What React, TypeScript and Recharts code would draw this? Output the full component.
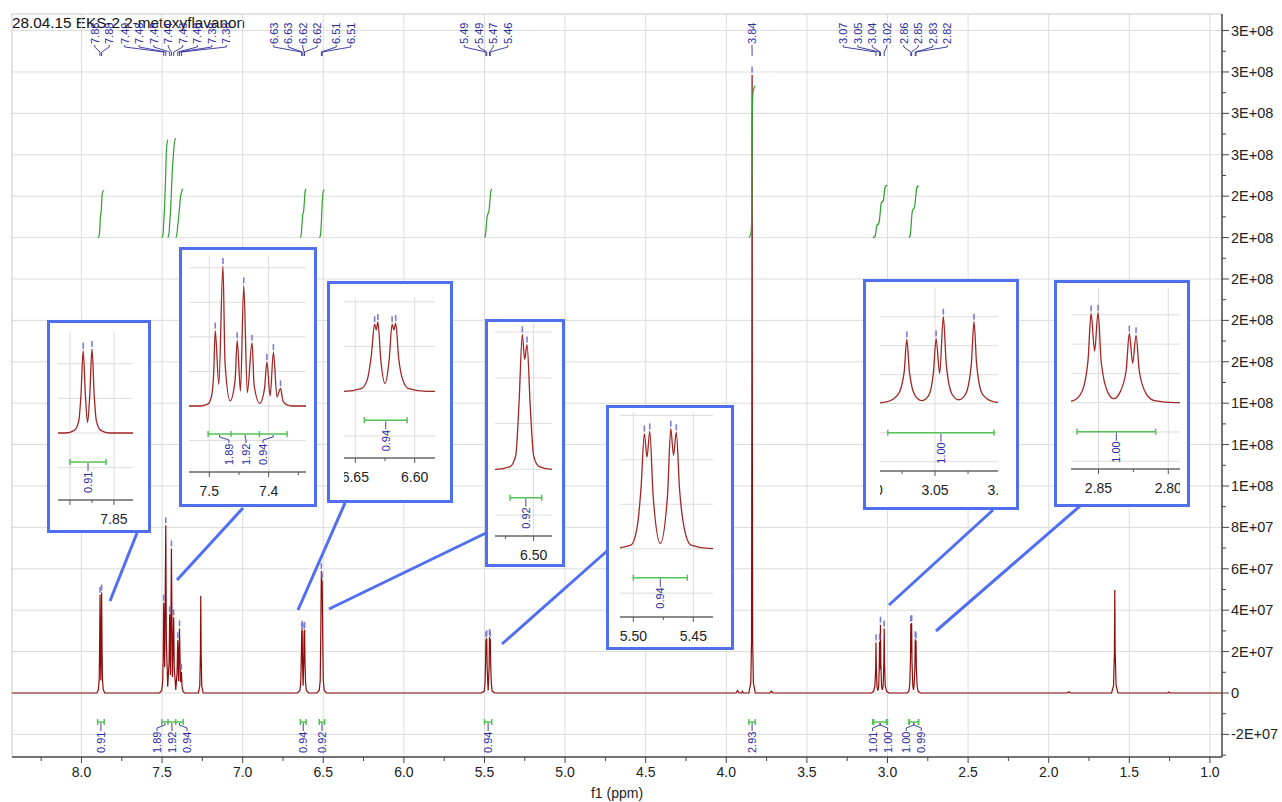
import React from 'react';
import { ComposedChart, Line, Scatter, XAxis, YAxis, ReferenceLine } from 'recharts';

const FONT = '"Liberation Sans", Arial, sans-serif';
const RED = '#8e0c0c';
const INSET_RED = '#a22626';
const GREEN = '#2f9f2f';
const BAR_GREEN = '#55c255';
const NAVY = '#2c2c9e';
const MARK = '#7c7cd8';
const BLUE = '#4f6ff0';
const GRID = '#dcdcdc';

// resolved lines of each labelled multiplet (ppm / intensity)
const peakPpm = [
  [7.885, 7.875],
  [7.49, 7.477, 7.453, 7.442, 7.428, 7.403, 7.392, 7.38],
  [6.6337, 6.631, 6.619, 6.616],
  [6.512, 6.507],
  [5.4908, 5.4863, 5.4688, 5.4642],
  [3.84],
  [3.0714, 3.0492, 3.0437, 3.0205],
  [2.8553, 2.8503, 2.8279, 2.8231],
];
const peakHeight = [
  [4.75e7, 4.85e7],
  [4.36e7, 8.1e7, 3.8e7, 6.98e7, 3.66e7, 2.55e7, 3.12e7, 1.02e7],
  [3.0e7, 3.1e7, 3.0e7, 3.05e7],
  [5.9e7, 5.45e7],
  [2.59e7, 2.64e7, 2.7e7, 2.62e7],
  [2.986e8],
  [2.44e7, 2.47e7, 3.3e7, 3.11e7],
  [3.35e7, 3.38e7, 2.6e7, 2.53e7],
];
// flanks and valleys around each multiplet, [ppm, intensity]
const peakFlanks: [number, number][][] = [
  [[7.905, 0], [7.895, 0.15e7], [7.89, 0.7e7], [7.8875, 2.2e7], [7.8825, 2.2e7], [7.88, 0.6e7], [7.8775, 2.2e7], [7.8725, 2.2e7], [7.87, 0.7e7], [7.865, 0.15e7], [7.855, 0]],
  [[7.515, 0], [7.502, 0.12e7], [7.496, 0.6e7], [7.4925, 2.0e7], [7.484, 1.25e7], [7.4735, 2.5e7], [7.465, 0.3e7], [7.4565, 1.5e7], [7.4475, 0.87e7], [7.436, 0.77e7], [7.4245, 1.2e7], [7.415, 0.15e7], [7.407, 1.0e7], [7.3975, 0.58e7], [7.386, 0.52e7], [7.376, 0.3e7], [7.37, 0.08e7], [7.36, 0]],
  [[6.66, 0], [6.645, 0.12e7], [6.64, 0.5e7], [6.6365, 1.6e7], [6.6323, 2.75e7], [6.6285, 1.4e7], [6.625, 0.35e7], [6.6215, 1.4e7], [6.6175, 2.75e7], [6.6135, 1.5e7], [6.61, 0.5e7], [6.605, 0.12e7], [6.59, 0]],
  [[6.54, 0], [6.525, 0.12e7], [6.519, 0.6e7], [6.5155, 2.9e7], [6.5095, 4.8e7], [6.5035, 2.7e7], [6.5, 0.6e7], [6.494, 0.12e7], [6.48, 0]],
  [[5.52, 0], [5.502, 0.08e7], [5.497, 0.45e7], [5.4935, 1.4e7], [5.4886, 2.06e7], [5.4835, 1.2e7], [5.4775, 0.12e7], [5.4715, 1.2e7], [5.4665, 2.1e7], [5.4615, 1.35e7], [5.4575, 0.45e7], [5.452, 0.08e7], [5.435, 0]],
  [[3.86, 0], [3.848, 0.5e7], [3.8435, 2.5e7], [3.8415, 1.3e8], [3.8385, 1.3e8], [3.8365, 2.5e7], [3.832, 0.5e7], [3.82, 0]],
  [[3.1, 0], [3.086, 0.08e7], [3.078, 0.35e7], [3.0734, 1.2e7], [3.0694, 1.2e7], [3.065, 0.3e7], [3.06, 0.12e7], [3.055, 0.3e7], [3.0512, 1.2e7], [3.0465, 1.15e7], [3.0415, 1.5e7], [3.037, 0.35e7], [3.032, 0.15e7], [3.027, 0.35e7], [3.0225, 1.5e7], [3.0185, 1.5e7], [3.014, 0.35e7], [3.006, 0.08e7], [2.99, 0]],
  [[2.88, 0], [2.868, 0.08e7], [2.862, 0.4e7], [2.8575, 1.6e7], [2.8528, 1.94e7], [2.848, 1.5e7], [2.843, 0.35e7], [2.839, 0.15e7], [2.835, 0.35e7], [2.8302, 1.2e7], [2.8255, 1.48e7], [2.8208, 1.2e7], [2.816, 0.35e7], [2.81, 0.08e7], [2.795, 0]],
];
// CHCl3 and water lines, not picked
const solventPpm = [7.26, 1.59];
const solventHeight = [4.7e7, 4.98e7];
const solventFlanks: [number, number][][] = [
  [[7.275, 0], [7.266, 0.35e7], [7.2622, 2.0e7], [7.2578, 2.0e7], [7.254, 0.35e7], [7.245, 0]],
  [[1.61, 0], [1.598, 0.35e7], [1.5922, 2.0e7], [1.5878, 2.0e7], [1.582, 0.35e7], [1.57, 0]],
];
const baselineBumps: [number, number][] = [
  [3.94, 0], [3.93, 0.12e7], [3.92, 0], [3.905, 0], [3.9, 0.08e7], [3.895, 0],
  [3.73, 0], [3.72, 0.09e7], [3.71, 0], [1.885, 0], [1.875, 0.06e7], [1.865, 0],
  [1.262, 0], [1.255, 0.05e7], [1.248, 0],
];

// integration regions
const integralValue = [0.91, 1.89, 1.92, 0.94, 0.94, 0.92, 0.94, 2.93, 1.01, 1.0, 1.0, 0.99];
const integralFrom = [7.9, 7.502, 7.4634, 7.4157, 6.6424, 6.5251, 5.5, 3.86, 3.092, 3.0858, 2.8654, 2.868];
const integralTo = [7.859, 7.4634, 7.4157, 7.369, 6.6064, 6.4914, 5.455, 3.82, 3.0, 3.0053, 2.809, 2.806];
const integralGroups = [[0], [1, 2, 3], [4], [5], [6], [7], [8, 9], [10, 11]];

// axis ticks
const ppmMajor = [8.0, 7.5, 7.0, 6.5, 6.0, 5.5, 5.0, 4.5, 4.0, 3.5, 3.0, 2.5, 2.0, 1.5, 1.0];
const ppmMinor = [8.25, 7.75, 7.25, 6.75, 6.25, 5.75, 5.25, 4.75, 4.25, 3.75, 3.25, 2.75, 2.25, 1.75, 1.25];
const intensityTicks = [-2e7, 0, 2e7, 4e7, 6e7, 8e7, 1e8, 1.2e8, 1.4e8, 1.6e8, 1.8e8, 2e8, 2.2e8, 2.4e8, 2.6e8, 2.8e8, 3e8, 3.2e8];

type Pt = { x: number; y: number | null; text?: string };
type Frame = { x0: number; x1: number; p0: number; p1: number; y0: number; y1: number; v0: number; v1: number };

const ppmAt = (f: Frame, px: number) => f.p0 + ((px - f.x0) / (f.x1 - f.x0)) * (f.p1 - f.p0);
const pxOf = (f: Frame, ppm: number) => f.x0 + ((ppm - f.p0) / (f.p1 - f.p0)) * (f.x1 - f.x0);
const valAt = (f: Frame, py: number) => f.v0 + ((py - f.y0) / (f.y1 - f.y0)) * (f.v1 - f.v0);

// plot box of the main spectrum in page pixels
const MAIN: Frame = { x0: 12, x1: 1222, p0: 8.431, p1: 0.925, y0: 14, y1: 757, v0: 3.28e8, v1: -3.092e7 };
const TOP_SLOTS = [102, 175.5, 295.5, 343.5, 486, 752, 865, 925.5];
const INT_BASE = 2.2e8;
const INT_UNIT = 2.5e7;

const spectrum: Pt[] = (() => {
  const pts: [number, number][] = [];
  peakPpm.forEach((g, i) => g.forEach((p, j) => pts.push([p, peakHeight[i][j]])));
  peakFlanks.forEach((f) => pts.push(...f));
  solventPpm.forEach((p, i) => pts.push([p, solventHeight[i]]));
  solventFlanks.forEach((f) => pts.push(...f));
  pts.push(...baselineBumps, [8.6, 0], [0.8, 0]);
  pts.sort((a, b) => b[0] - a[0]);
  return pts.map(([x, y]) => ({ x, y }));
})();

const pickedPeaks: Pt[] = peakPpm.flatMap((g, i) => g.map((x, j) => ({ x, y: peakHeight[i][j] })));

// running integral of the trace inside each region
function integralCurve(k: number): Pt[] {
  const from = integralFrom[k];
  const to = integralTo[k];
  const inside = spectrum.filter((p) => p.x < from && p.x > to);
  const xs = [from, ...inside.map((p) => p.x), to];
  const ys = [0, ...inside.map((p) => p.y as number), 0];
  const cum = [0];
  for (let i = 1; i < xs.length; i++) cum.push(cum[i - 1] + ((xs[i - 1] - xs[i]) * (ys[i - 1] + ys[i])) / 2);
  const total = cum[cum.length - 1] || 1;
  return xs.map((x, i) => ({ x, y: INT_BASE + (cum[i] / total) * integralValue[k] * INT_UNIT }));
}
const integralCurves: Pt[] = integralValue.flatMap((_, k) => [...integralCurve(k), { x: integralTo[k], y: null }]);

function peakLabels(f: Frame, slots: number[], gap: number, bottom: number) {
  const labels: Pt[] = [];
  const links: Pt[] = [];
  peakPpm.forEach((g, gi) =>
    g.forEach((p, j) => {
      const sx = ppmAt(f, slots[gi] + (j - (g.length - 1) / 2) * gap);
      labels.push({ x: sx, y: valAt(f, bottom), text: p.toFixed(2) });
      links.push(
        { x: sx, y: valAt(f, bottom + 1) },
        { x: sx, y: valAt(f, bottom + 3) },
        { x: p, y: valAt(f, bottom + 8) },
        { x: p, y: valAt(f, bottom + 12) },
        { x: p, y: null },
      );
    }),
  );
  return { labels, links };
}

function integralMarks(f: Frame, groups: number[][], barY: number, gap: number) {
  const bars: Pt[] = [];
  const links: Pt[] = [];
  const labels: Pt[] = [];
  const yb = valAt(f, barY);
  const yu = valAt(f, barY - 3);
  const yd = valAt(f, barY + 3);
  groups.forEach((g) => {
    const centers = g.map((k) => (integralFrom[k] + integralTo[k]) / 2);
    const mid = centers.reduce((s, c) => s + pxOf(f, c), 0) / g.length;
    g.forEach((k, j) => {
      const a = integralFrom[k];
      const b = integralTo[k];
      bars.push(
        { x: a, y: yu }, { x: a, y: yd }, { x: a, y: null },
        { x: a, y: yb }, { x: b, y: yb }, { x: b, y: null },
        { x: b, y: yu }, { x: b, y: yd }, { x: b, y: null },
      );
      const sx = ppmAt(f, mid + (j - (g.length - 1) / 2) * gap);
      links.push(
        { x: centers[j], y: valAt(f, barY + 1) },
        { x: centers[j], y: valAt(f, barY + 3) },
        { x: sx, y: valAt(f, barY + 6) },
        { x: sx, y: valAt(f, barY + 9) },
        { x: sx, y: null },
      );
      labels.push({ x: sx, y: valAt(f, barY + 31), text: integralValue[k].toFixed(2) });
    });
  });
  return { bars, links, labels };
}

const fmtE = (v: number) => {
  if (v === 0) return '0';
  const [m, e] = v.toExponential(0).split('e');
  return `${m}E${e[0]}${e.slice(1).padStart(2, '0')}`;
};

const vLabel = (size: number) => (p: any) => (
  <text
    x={p.cx}
    y={p.cy}
    transform={`rotate(-90 ${p.cx} ${p.cy})`}
    fill={NAVY}
    fontSize={size}
    fontFamily={FONT}
    dominantBaseline="central"
  >
    {p.payload.text}
  </text>
);
const peakMark = (p: any) => (
  <line x1={p.cx} x2={p.cx} y1={p.cy - 2} y2={p.cy - 8} stroke={MARK} strokeWidth={1.6} />
);

function MainXTick(p: any) {
  const v = p.payload.value as number;
  const major = ppmMajor.includes(v);
  return (
    <g>
      <line x1={p.x} x2={p.x} y1={p.y} y2={p.y + (major ? 6 : 4)} stroke="#444" />
      {major && (
        <text x={p.x} y={p.y + 20} textAnchor="middle" fontSize={14} fontFamily={FONT} fill="#222">
          {v.toFixed(1)}
        </text>
      )}
    </g>
  );
}

function MainYTick(p: any) {
  const v = p.payload.value as number;
  const major = intensityTicks.includes(v);
  return (
    <g>
      <line x1={p.x} x2={p.x + (major ? 7 : 4)} y1={p.y} y2={p.y} stroke="#444" />
      {major && (
        <text x={p.x + 9} y={p.y} dominantBaseline="central" fontSize={14.5} fontFamily={FONT} fill="#222">
          {fmtE(v)}
        </text>
      )}
    </g>
  );
}

type InsetCfg = {
  box: [number, number, number, number];
  plot: [number, number, number, number];
  ppm: [number, number];
  base: number;
  perPx: number;
  ticks: number[];
  vgrid: number[];
  labeled: number[];
  dec: number;
  grid: number;
  group: number;
  integrals: number[];
  barY: number;
  gap: number;
};

const INSETS: InsetCfg[] = [
  { box: [47, 320, 104, 213], plot: [58, 133, 331, 500], ppm: [7.9136, 7.8284], base: 433, perPx: 5.774e5, ticks: [7.9, 7.875, 7.85], vgrid: [7.9, 7.85], labeled: [7.85], dec: 2, grid: 2e7, group: 0, integrals: [0], barY: 462, gap: 15 },
  { box: [179, 247, 138, 260], plot: [189, 306, 256, 472], ppm: [7.5342, 7.3371], base: 406, perPx: 5.786e5, ticks: [7.5, 7.45, 7.4, 7.35], vgrid: [7.5, 7.4], labeled: [7.5, 7.4], dec: 1, grid: 2e7, group: 1, integrals: [1, 2, 3], barY: 434, gap: 17 },
  { box: [327, 281, 126, 222], plot: [344, 435, 298, 458], ppm: [6.6595, 6.5829], base: 391.3, perPx: 4.473e5, ticks: [6.65, 6.625, 6.6], vgrid: [6.65, 6.6], labeled: [6.65, 6.6], dec: 2, grid: 2e7, group: 2, integrals: [4], barY: 420.3, gap: 15 },
  { box: [485, 319, 80, 248], plot: [495, 552, 323, 536], ppm: [6.5411, 6.4804], base: 469.3, perPx: 4.37e5, ticks: [6.53, 6.5], vgrid: [6.5], labeled: [6.5], dec: 2, grid: 2e7, group: 3, integrals: [5], barY: 497.7, gap: 15 },
  { box: [606, 405, 128, 245], plot: [620, 713, 412, 617], ppm: [5.5111, 5.4336], base: 548.7, perPx: 2.25e5, ticks: [5.5, 5.475, 5.45], vgrid: [5.5, 5.45], labeled: [5.5, 5.45], dec: 2, grid: 1e7, group: 4, integrals: [6], barY: 577.7, gap: 15 },
  { box: [863, 279, 156, 231], plot: [880, 998, 288, 471], ppm: [3.0917, 3.0023], base: 403.7, perPx: 3.793e5, ticks: [3.1, 3.075, 3.05, 3.025, 3.0], vgrid: [3.05], labeled: [3.1, 3.05, 3.0], dec: 2, grid: 1.1e7, group: 6, integrals: [9], barY: 432.7, gap: 15 },
  { box: [1054, 280, 136, 227], plot: [1071, 1180, 288, 469], ppm: [2.8697, 2.7916], base: 402.7, perPx: 3.756e5, ticks: [2.85, 2.825, 2.8], vgrid: [2.85, 2.8], labeled: [2.85, 2.8], dec: 2, grid: 1.1e7, group: 7, integrals: [10], barY: 431.7, gap: 15 },
];

// callout lines from each zoom box to its multiplet
const CALLOUTS = [
  [137, 533, 110, 601],
  [243, 508, 177, 580],
  [345, 503, 298, 610],
  [486, 533, 329, 609],
  [607, 551, 502, 644],
  [993, 510, 889, 605],
  [1080, 506, 936, 631],
];

function Inset({ cfg }: { cfg: InsetCfg }) {
  const [bl, bt, bw, bh] = cfg.box;
  const [pl, pr, pt, pb] = cfg.plot;
  const B = 3;
  const ox = bl + B;
  const oy = bt + B;
  const cw = bw - 2 * B;
  const ch = bh - 2 * B;
  const f: Frame = {
    x0: pl, x1: pr, p0: cfg.ppm[0], p1: cfg.ppm[1],
    y0: pt, y1: pb, v0: (cfg.base - pt) * cfg.perPx, v1: -(pb - cfg.base) * cfg.perPx,
  };
  const marks = integralMarks(f, [cfg.integrals], cfg.barY, cfg.gap);
  const peaks = peakPpm[cfg.group].map((x, i) => ({ x, y: peakHeight[cfg.group][i] }));
  const hgrid: number[] = [];
  for (let v = Math.ceil(f.v1 / cfg.grid) * cfg.grid; v < f.v0; v += cfg.grid) hgrid.push(v);
  const left = pl - ox;
  const right = pr - ox;

  // tick labels are cut at the edges of the plot, as in the zoom views
  const tick = (p: any) => {
    const v = p.payload.value as number;
    const inside = p.x >= left - 0.5 && p.x <= right + 0.5;
    const major = cfg.vgrid.includes(v) || cfg.labeled.includes(v);
    return (
      <g>
        {inside && <line x1={p.x} x2={p.x} y1={p.y} y2={p.y + (major ? 5 : 3)} stroke="#555" />}
        {cfg.labeled.includes(v) && (
          <svg x={left} y={p.y} width={right - left} height={32} overflow="hidden">
            <text x={p.x - left} y={24} textAnchor="middle" fontSize={14} fontFamily={FONT} fill="#222">
              {v.toFixed(cfg.dec)}
            </text>
          </svg>
        )}
      </g>
    );
  };

  return (
    <div
      style={{
        position: 'absolute', left: bl, top: bt, width: bw, height: bh,
        border: `3px solid ${BLUE}`, boxSizing: 'border-box', background: '#fff', overflow: 'hidden',
      }}
    >
      <ComposedChart width={cw} height={ch} margin={{ top: pt - oy, right: ox + cw - pr, bottom: 0, left: left }}>
        <XAxis
          type="number" dataKey="x" domain={[f.p1, f.p0]} reversed allowDataOverflow
          ticks={cfg.ticks} interval={0} height={oy + ch - pb}
          tickSize={0} tickMargin={0} tickLine={false} tick={tick}
          axisLine={{ stroke: '#666', strokeWidth: 1.5 }}
        />
        <YAxis type="number" dataKey="y" domain={[f.v1, f.v0]} allowDataOverflow hide width={0} />
        {hgrid.map((v) => <ReferenceLine key={`h${v}`} y={v} stroke={GRID} />)}
        {cfg.vgrid.map((v) => <ReferenceLine key={`v${v}`} x={v} stroke={GRID} />)}
        <Line data={spectrum} dataKey="y" type="monotone" stroke={INSET_RED} strokeWidth={1.3} dot={false} activeDot={false} isAnimationActive={false} />
        <Scatter data={peaks} dataKey="y" shape={peakMark} isAnimationActive={false} />
        <Line data={marks.bars} dataKey="y" type="linear" stroke={BAR_GREEN} strokeWidth={1.5} dot={false} activeDot={false} isAnimationActive={false} />
        <Line data={marks.links} dataKey="y" type="linear" stroke={NAVY} strokeWidth={0.9} dot={false} activeDot={false} isAnimationActive={false} />
        <Scatter data={marks.labels} dataKey="y" shape={vLabel(11)} isAnimationActive={false} />
      </ComposedChart>
    </div>
  );
}

const topLabels = peakLabels(MAIN, TOP_SLOTS, 14.5, 44);
const bottomMarks = integralMarks(MAIN, integralGroups, 722, 15);
const yMinor = intensityTicks.map((v) => v + 1e7).concat([-3e7]).filter((v) => v < MAIN.v0 && v > MAIN.v1);

export default function App() {
  return (
    <div style={{ position: 'absolute', left: 0, top: 0, width: 1282, height: 802, background: '#fff', fontFamily: FONT }}>
      <div style={{ position: 'absolute', left: 12, top: 14, fontSize: 15.3, lineHeight: '17px', color: '#111', whiteSpace: 'nowrap' }}>
        28.04.15 EKS-2 2-metoxyflavanon
      </div>
      <div style={{ position: 'absolute', left: 0, top: 0 }}>
        <ComposedChart width={1282} height={802} margin={{ top: 14, right: 0, bottom: 0, left: 12 }}>
          <XAxis
            type="number" dataKey="x" domain={[MAIN.p1, MAIN.p0]} reversed allowDataOverflow
            ticks={[...ppmMajor, ...ppmMinor].sort((a, b) => b - a)} interval={0} height={45}
            tickSize={0} tickMargin={0} tickLine={false} tick={MainXTick}
            axisLine={{ stroke: '#444', strokeWidth: 1.5 }}
            label={{ value: 'f1 (ppm)', position: 'insideBottom', offset: 4, fontSize: 14, fill: '#222', fontFamily: FONT }}
          />
          <YAxis
            type="number" dataKey="y" orientation="right" width={60} domain={[MAIN.v1, MAIN.v0]} allowDataOverflow
            ticks={[...intensityTicks, ...yMinor].sort((a, b) => a - b)} interval={0}
            tickSize={0} tickMargin={0} tickLine={false} tick={MainYTick}
            axisLine={{ stroke: '#444', strokeWidth: 1.5 }}
          />
          {intensityTicks.map((v) => <ReferenceLine key={`h${v}`} y={v} stroke={GRID} />)}
          {ppmMajor.map((v) => <ReferenceLine key={`v${v}`} x={v} stroke={GRID} />)}
          <ReferenceLine x={MAIN.p0} stroke="#c8c8c8" />
          <ReferenceLine y={MAIN.v0} stroke="#c8c8c8" />
          <Line data={spectrum} dataKey="y" type="linear" stroke={RED} strokeWidth={1.2} dot={false} activeDot={false} isAnimationActive={false} />
          <Line data={integralCurves} dataKey="y" type="monotone" stroke={GREEN} strokeWidth={1.2} dot={false} activeDot={false} isAnimationActive={false} />
          <Scatter data={pickedPeaks} dataKey="y" shape={peakMark} isAnimationActive={false} />
          <Line data={topLabels.links} dataKey="y" type="linear" stroke={NAVY} strokeWidth={0.9} dot={false} activeDot={false} isAnimationActive={false} />
          <Scatter data={topLabels.labels} dataKey="y" shape={vLabel(11)} isAnimationActive={false} />
          <Line data={bottomMarks.bars} dataKey="y" type="linear" stroke={BAR_GREEN} strokeWidth={1.5} dot={false} activeDot={false} isAnimationActive={false} />
          <Line data={bottomMarks.links} dataKey="y" type="linear" stroke={NAVY} strokeWidth={0.9} dot={false} activeDot={false} isAnimationActive={false} />
          <Scatter data={bottomMarks.labels} dataKey="y" shape={vLabel(11)} isAnimationActive={false} />
        </ComposedChart>
      </div>
      <svg style={{ position: 'absolute', left: 0, top: 0 }} width={1282} height={802}>
        {CALLOUTS.map(([x1, y1, x2, y2], i) => (
          <line key={i} x1={x1} y1={y1} x2={x2} y2={y2} stroke={BLUE} strokeWidth={3} />
        ))}
      </svg>
      {INSETS.map((c) => <Inset key={c.group} cfg={c} />)}
    </div>
  );
}
